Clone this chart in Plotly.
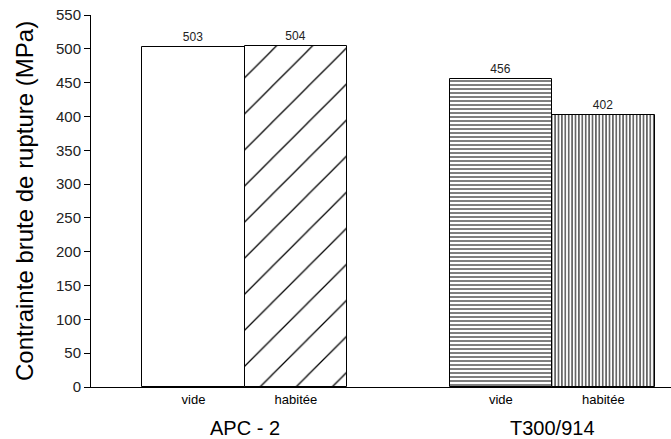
import plotly.graph_objects as go

positions = [1, 2, 4, 5]
tick_labels = ["vide", "habitée", "vide", "habitée"]
values = [503, 504, 456, 402]
groups = ["APC - 2", "T300/914"]
group_pos = [1.5, 4.5]
y_ticks = list(range(0, 551, 50))
y_title = "Contrainte brute de rupture (MPa)"

FONT = "Liberation Sans, Arial, Helvetica"

fig = go.Figure()
fig.add_trace(go.Bar(
    x=positions, y=values, width=1.0,
    text=[str(v) for v in values], textposition="outside",
    textfont=dict(family=FONT, size=12, color="#222"),
    cliponaxis=False,
    marker=dict(
        color="white",
        line=dict(color="black", width=1),
        pattern=dict(
            shape=["", "/", "-", "|"],
            size=[10, 25.5, 4, 3.4],
            solidity=[0.1, 0.05, 0.25, 0.3],
            fgcolor="black", bgcolor="white", fillmode="overlay", fgopacity=1,
        ),
    ),
    showlegend=False,
))

for g, p in zip(groups, group_pos):
    fig.add_annotation(x=p, y=0, xref="x", yref="paper", text=g, showarrow=False,
                       yanchor="middle", yshift=-41,
                       font=dict(family=FONT, size=20, color="black"))

fig.add_annotation(x=0, y=0.5, xref="paper", yref="paper", text=y_title, showarrow=False,
                   textangle=-90, xanchor="center", yanchor="middle", xshift=-67,
                   font=dict(family=FONT, size=24, color="black"))

fig.update_layout(
    width=671, height=439,
    margin=dict(l=91, r=0, t=15, b=52),
    paper_bgcolor="white", plot_bgcolor="white",
    font=dict(family=FONT, color="black"),
    bargap=0,
)
fig.update_xaxes(
    range=[0, 5.66], tickvals=positions, ticktext=tick_labels,
    showline=True, linecolor="black", linewidth=1, ticks="", showgrid=False,
    tickfont=dict(size=13), zeroline=False, automargin=False,
)
fig.update_yaxes(
    range=[0, 550], tickvals=y_ticks, showline=True, linecolor="black", linewidth=1,
    ticks="outside", ticklen=6, tickcolor="black", showgrid=False, zeroline=False,
    tickfont=dict(size=15, color="#222"), automargin=False,
)
fig.write_html("out.html", config={"displayModeBar": False},
               post_script="document.body.style.margin='0';document.body.style.overflow='hidden';")
